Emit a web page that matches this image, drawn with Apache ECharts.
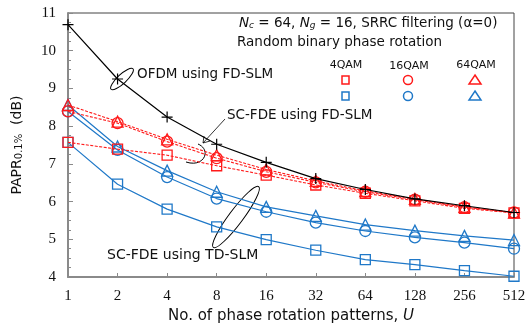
<!DOCTYPE html>
<html>
<head>
<meta charset="utf-8">
<script src="https://cdn.jsdelivr.net/npm/echarts@6/dist/echarts.min.js"></script>
<style>
  html, body { margin: 0; padding: 0; background: #fff; }
  #chart { width: 530px; height: 329px; }
</style>
</head>
<body>
<div id="chart"></div>
<script>
// 相位旋转模式数 U
const patterns = ['1', '2', '4', '8', '16', '32', '64', '128', '256', '512']
const yTicks = [4, 5, 6, 7, 8, 9, 10, 11]

// OFDM using FD-SLM
const ofdm = [10.69, 9.25, 8.24, 7.52, 7.04, 6.61, 6.32, 6.07, 5.89, 5.71]
// SC-FDE using FD-SLM
const fd4qam = [7.57, 7.39, 7.23, 6.95, 6.70, 6.44, 6.22, 6.02, 5.82, 5.70]
const fd16qam = [8.39, 8.08, 7.59, 7.15, 6.79, 6.51, 6.26, 6.05, 5.85, 5.71]
const fd64qam = [8.56, 8.12, 7.65, 7.23, 6.85, 6.55, 6.28, 6.07, 5.86, 5.71]
// SC-FDE using TD-SLM
const td4qam = [7.57, 6.46, 5.80, 5.33, 4.99, 4.71, 4.46, 4.33, 4.17, 4.02]
const td16qam = [8.39, 7.37, 6.65, 6.08, 5.73, 5.44, 5.22, 5.05, 4.91, 4.75]
const td64qam = [8.56, 7.46, 6.82, 6.26, 5.86, 5.62, 5.39, 5.23, 5.09, 4.98]

const RED = '#ff1a1a'
const BLUE = '#1f78c8'
const sans = '"DejaVu Sans", "Noto Sans", sans-serif'
const serif = '"Liberation Serif", "DejaVu Serif", serif'

const chart = echarts.init(document.getElementById('chart'))

function makeSeries(name, data, color, symbol, dashed) {
  return {
    name,
    type: 'line',
    data,
    symbol,
    symbolSize: symbol === 'rect' ? 10 : 11,
    showSymbol: true,
    lineStyle: {
      color,
      width: dashed ? 1.1 : 1.2,
      type: dashed ? [3, 1.5] : 'solid'
    },
    itemStyle: {
      color: 'transparent',
      borderColor: color,
      borderWidth: 1.3
    },
    z: dashed ? 3 : 2
  }
}

const plusPath = 'path://M0,5L10,5M5,0L5,10'

// 图例列标题
function legendText(x, y, text) {
  return {
    type: 'text', x, y,
    style: { text, font: '11px ' + sans, fill: '#111', align: 'center', verticalAlign: 'middle' }
  }
}

const option = {
  animation: false,
  grid: {
    left: 68, right: 16, top: 13, bottom: 52,
    show: true,
    borderColor: '#444',
    borderWidth: 1
  },
  xAxis: {
    type: 'category',
    data: patterns,
    boundaryGap: false,
    name: 'No. of phase rotation patterns, {i|U}',
    nameLocation: 'middle',
    nameGap: 30,
    nameTextStyle: {
      fontFamily: sans, fontSize: 15, color: '#111',
      rich: { i: { fontFamily: sans, fontSize: 15, fontStyle: 'italic', color: '#111' } }
    },
    axisLine: { lineStyle: { color: '#8a8a8a', width: 2 } },
    axisTick: { inside: true, length: 4, lineStyle: { color: '#8a8a8a' } },
    axisLabel: { fontFamily: serif, fontSize: 15, color: '#111', margin: 12 },
    splitLine: { show: false }
  },
  yAxis: {
    type: 'value',
    min: 4, max: 11, interval: 1,
    name: '{a|PAPR}{s|0.1%}{a|  (dB)}',
    nameLocation: 'middle',
    nameGap: 44,
    nameTextStyle: {
      rich: {
        a: { fontFamily: sans, fontSize: 14, color: '#111' },
        s: { fontFamily: sans, fontSize: 10, color: '#111', verticalAlign: 'bottom', lineHeight: 12 }
      }
    },
    axisLine: { show: true, lineStyle: { color: '#8a8a8a', width: 2 } },
    axisTick: { show: true, inside: true, length: 5, lineStyle: { color: '#8a8a8a' } },
    minorTick: { show: true, splitNumber: 4, length: 3, lineStyle: { color: '#8a8a8a' } },
    axisLabel: { fontFamily: serif, fontSize: 15, color: '#111', margin: 12 },
    splitLine: { show: false }
  },
  series: [
    makeSeries('FD 4QAM', fd4qam, RED, 'rect', true),
    makeSeries('FD 16QAM', fd16qam, RED, 'circle', true),
    makeSeries('FD 64QAM', fd64qam, RED, 'triangle', true),
    makeSeries('TD 4QAM', td4qam, BLUE, 'rect', false),
    makeSeries('TD 16QAM', td16qam, BLUE, 'circle', false),
    makeSeries('TD 64QAM', td64qam, BLUE, 'triangle', false),
    {
      name: 'OFDM',
      type: 'line',
      data: ofdm,
      symbol: plusPath,
      symbolSize: 11,
      lineStyle: { color: '#000', width: 1.2 },
      itemStyle: { color: 'transparent', borderColor: '#000', borderWidth: 1.2 },
      z: 4
    }
  ],
  graphic: [
    // 右上角说明文字
    {
      type: 'text', left: 239, top: 16,
      style: {
        text: '{i|N}{sub|c}{t| = 64, }{i|N}{sub|g}{t| = 16, SRRC filtering (α=0)}',
        rich: {
          t: { fontFamily: sans, fontSize: 13.5, fill: '#111' },
          i: { fontFamily: sans, fontSize: 13.5, fontStyle: 'italic', fill: '#111' },
          sub: { fontFamily: sans, fontSize: 9, fontStyle: 'italic', fill: '#111', verticalAlign: 'bottom', lineHeight: 13 }
        }
      }
    },
    {
      type: 'text', left: 237, top: 35,
      style: { text: 'Random binary phase rotation', font: '13.5px ' + sans, fill: '#111' }
    },
    // 图例（列标题 + 符号）
    legendText(346, 65, '4QAM'),
    legendText(409, 66, '16QAM'),
    legendText(476, 65, '64QAM'),
    { type: 'rect', shape: { x: 342, y: 76, width: 7, height: 8 }, style: { fill: 'none', stroke: RED, lineWidth: 1.5 } },
    { type: 'circle', shape: { cx: 408, cy: 80, r: 4.5 }, style: { fill: 'none', stroke: RED, lineWidth: 1.5 } },
    { type: 'polygon', shape: { points: [[475, 75], [481, 84], [469, 84]] }, style: { fill: 'none', stroke: RED, lineWidth: 1.5 } },
    { type: 'rect', shape: { x: 342, y: 92, width: 7, height: 8 }, style: { fill: 'none', stroke: BLUE, lineWidth: 1.5 } },
    { type: 'circle', shape: { cx: 408, cy: 96, r: 4.5 }, style: { fill: 'none', stroke: BLUE, lineWidth: 1.5 } },
    { type: 'polygon', shape: { points: [[475, 91], [481, 100], [469, 100]] }, style: { fill: 'none', stroke: BLUE, lineWidth: 1.5 } },
    // 标注
    {
      type: 'text', left: 137, top: 67,
      style: { text: 'OFDM using FD-SLM', font: '13.5px ' + sans, fill: '#111' }
    },
    {
      type: 'ellipse', x: 122, y: 79, rotation: 0.75,
      shape: { cx: 0, cy: 0, rx: 15, ry: 4.5 },
      style: { fill: 'none', stroke: '#000', lineWidth: 1 }
    },
    {
      type: 'text', left: 227, top: 108,
      style: { text: 'SC-FDE using FD-SLM', font: '13.5px ' + sans, fill: '#111' }
    },
    {
      type: 'line', shape: { x1: 225, y1: 119, x2: 203, y2: 143 },
      style: { stroke: '#000', lineWidth: 0.8 }
    },
    {
      type: 'polyline', shape: { points: [[204, 136], [203, 143], [210, 141]] },
      style: { stroke: '#000', lineWidth: 0.8, fill: 'none' }
    },
    {
      type: 'bezierCurve',
      shape: { x1: 198, y1: 144, cpx1: 212, cpy1: 150, cpx2: 204, cpy2: 168, x2: 186, y2: 162 },
      style: { stroke: '#000', lineWidth: 1, fill: 'none' }
    },
    {
      type: 'text', left: 107, top: 248,
      style: { text: 'SC-FDE using TD-SLM', font: '14px ' + sans, fill: '#111' }
    },
    {
      type: 'ellipse', x: 236, y: 217, rotation: 0.93,
      shape: { cx: 0, cy: 0, rx: 38, ry: 7 },
      style: { fill: 'none', stroke: '#000', lineWidth: 1 }
    }
  ]
}

chart.setOption(option)
</script>
</body>
</html>
